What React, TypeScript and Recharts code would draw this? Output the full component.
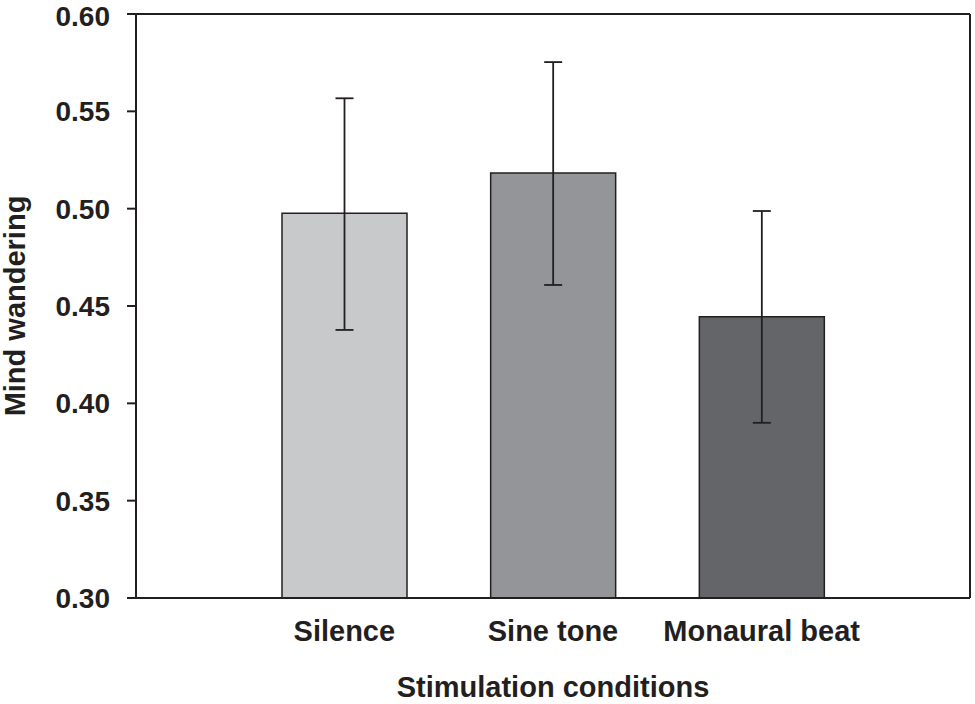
import { BarChart, Bar, XAxis, YAxis, Cell, ErrorBar, ReferenceLine } from "recharts";

const conditions = ["Silence", "Sine tone", "Monaural beat"];
const means = [0.4976, 0.5183, 0.4445];
const upper = [0.5567, 0.5753, 0.4988];
const lower = [0.4377, 0.4608, 0.39];
const yTicks = [0.3, 0.35, 0.4, 0.45, 0.5, 0.55, 0.6];
const fills = ["#c8c9cb", "#939598", "#646568"];

const data = conditions.map((name, i) => ({
  name,
  mean: means[i],
  err: [means[i] - lower[i], upper[i] - means[i]],
}));

const FONT = "'Liberation Sans', Arial, Helvetica, sans-serif";
const INK = "#231f20";

// eslint-disable-next-line @typescript-eslint/no-explicit-any
function YTitle({ viewBox }: any) {
  const cy = viewBox.y + viewBox.height / 2;
  return (
    <text
      x={25}
      y={cy}
      transform={`rotate(-90, 25, ${cy})`}
      textAnchor="middle"
      fontFamily={FONT}
      fontWeight="bold"
      fontSize={29}
      fill={INK}
    >
      Mind wandering
    </text>
  );
}

// eslint-disable-next-line @typescript-eslint/no-explicit-any
function XTitle({ viewBox }: any) {
  return (
    <text
      x={553}
      y={viewBox.y + viewBox.height - 7}
      textAnchor="middle"
      fontFamily={FONT}
      fontWeight="bold"
      fontSize={29}
      fill={INK}
    >
      Stimulation conditions
    </text>
  );
}

export default function App() {
  return (
    <div style={{ position: "absolute", left: 0, top: 0, width: 975, height: 704, background: "#fff" }}>
      <BarChart
        width={975}
        height={704}
        data={data}
        margin={{ top: 14, right: 0, left: 0, bottom: 0 }}
      >
        <XAxis
          dataKey="name"
          height={106}
          padding={{ left: 104, right: 104 }}
          axisLine={{ stroke: INK, strokeWidth: 2 }}
          tickLine={false}
          tickSize={6}
          tickMargin={16}
          tick={{ fontFamily: FONT, fontWeight: "bold", fontSize: 29, fill: INK }}
          interval={0}
          label={<XTitle />}
        />
        <YAxis
          yAxisId="left"
          domain={[0.3, 0.6]}
          ticks={yTicks}
          width={136}
          allowDataOverflow
          axisLine={{ stroke: INK, strokeWidth: 2 }}
          tickLine={{ stroke: INK, strokeWidth: 2 }}
          tickSize={9}
          tickMargin={17}
          tickFormatter={(v: number) => v.toFixed(2)}
          tick={{ fontFamily: FONT, fontWeight: "bold", fontSize: 28, fill: INK }}
          label={<YTitle />}
        />
        <YAxis
          yAxisId="right"
          orientation="right"
          domain={[0.3, 0.6]}
          width={5}
          tick={false}
          tickLine={false}
          axisLine={{ stroke: INK, strokeWidth: 2 }}
        />
        <ReferenceLine yAxisId="left" y={0.6} stroke={INK} strokeWidth={2} />
        <Bar
          yAxisId="left"
          dataKey="mean"
          barSize={125}
          stroke={INK}
          strokeWidth={1.5}
          isAnimationActive={false}
        >
          {data.map((d, i) => (
            <Cell key={d.name} fill={fills[i]} />
          ))}
          <ErrorBar dataKey="err" width={9} stroke={INK} strokeWidth={1.8} isAnimationActive={false} />
        </Bar>
      </BarChart>
    </div>
  );
}
